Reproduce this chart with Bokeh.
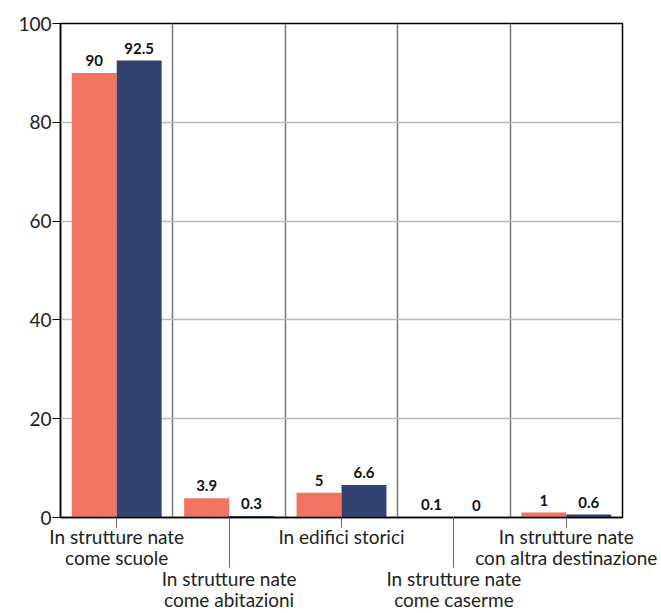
from bokeh.plotting import figure
from bokeh.models import FixedTicker, ColumnDataSource
from bokeh.core.properties import value
from bokeh.embed import file_html
from bokeh.resources import INLINE

categories = ["In strutture nate\ncome scuole",
              "In strutture nate\ncome abitazioni",
              "In edifici storici",
              "In strutture nate\ncome caserme",
              "In strutture nate\ncon altra destinazione"]
serie_a = [90, 3.9, 5, 0.1, 1]
serie_b = [92.5, 0.3, 6.6, 0, 0.6]
y_ticks = [0, 20, 40, 60, 80, 100]

SALMON = "#F07462"
NAVY = "#324372"
FONT = "Lato"

n = len(categories)
idx = list(range(n))

p = figure(width=661, height=613, output_backend="svg", toolbar_location=None,
           x_range=(0, n), y_range=(0, 100),
           min_border_left=60, min_border_right=39, min_border_top=23, min_border_bottom=96)
p.frame_width = 562
p.frame_height = 494

src_a = ColumnDataSource(dict(left=[i + 0.1 for i in idx], right=[i + 0.5 for i in idx],
                              top=serie_a, xc=[i + 0.3 for i in idx],
                              lbl=[f"{v:g}" for v in serie_a]))
src_b = ColumnDataSource(dict(left=[i + 0.5 for i in idx], right=[i + 0.9 for i in idx],
                              top=serie_b, xc=[i + 0.7 for i in idx],
                              lbl=[f"{v:g}" for v in serie_b]))

p.quad(left="left", right="right", bottom=0, top="top", source=src_a,
       fill_color=SALMON, line_color=None)
p.quad(left="left", right="right", bottom=0, top="top", source=src_b,
       fill_color=NAVY, line_color=None)

for s in (src_a, src_b):
    p.text(x="xc", y="top", text="lbl", source=s, text_align="center",
           text_baseline="bottom", y_offset=-7, text_font=value(FONT),
           text_font_style="bold", text_font_size="15px", text_color="#111111")

# grids
p.ygrid.ticker = FixedTicker(ticks=y_ticks)
p.ygrid.grid_line_color = "#bbbbbb"
p.ygrid.grid_line_width = 1.5
p.xgrid.ticker = FixedTicker(ticks=[1, 2, 3, 4])
p.xgrid.grid_line_color = "#777777"
p.xgrid.grid_line_width = 1.5

p.outline_line_color = "black"
p.outline_line_width = 1.5
p.outline_line_alpha = 1

# y axis
p.yaxis.ticker = FixedTicker(ticks=y_ticks)
p.yaxis.major_label_text_font = FONT
p.yaxis.major_label_text_font_size = "19px"
p.yaxis.major_label_text_color = "#222222"
p.yaxis.major_tick_out = 8
p.yaxis.major_tick_in = 0
p.yaxis.minor_tick_out = 0
p.yaxis.minor_tick_in = 0
p.yaxis.axis_line_color = "black"
p.yaxis.axis_line_width = 1.5
p.yaxis.major_tick_line_color = "black"
p.yaxis.major_label_standoff = 1

# x axis with staggered labels
centers = [i + 0.5 for i in idx]
overrides = {}
for i, c in enumerate(centers):
    overrides[c] = categories[i] if i % 2 == 0 else "\n\n" + categories[i]
p.xaxis.ticker = FixedTicker(ticks=centers, minor_ticks=[centers[1], centers[3]])
p.xaxis.major_label_overrides = overrides
p.xaxis.major_label_text_font = FONT
p.xaxis.major_label_text_font_size = "19px"
p.xaxis.major_label_text_line_height = 0.92
p.xaxis.major_label_text_color = "#222222"
p.xaxis.major_tick_out = 10
p.xaxis.major_tick_in = 0
p.xaxis.minor_tick_out = 50
p.xaxis.minor_tick_in = 0
p.xaxis.major_tick_line_color = "#666666"
p.xaxis.minor_tick_line_color = "#666666"
p.xaxis.axis_line_color = "black"
p.xaxis.axis_line_width = 1.5
p.xaxis.major_label_standoff = -43

p.background_fill_color = "white"
p.border_fill_color = "white"

open("out.html", "w").write(file_html(p, INLINE))
